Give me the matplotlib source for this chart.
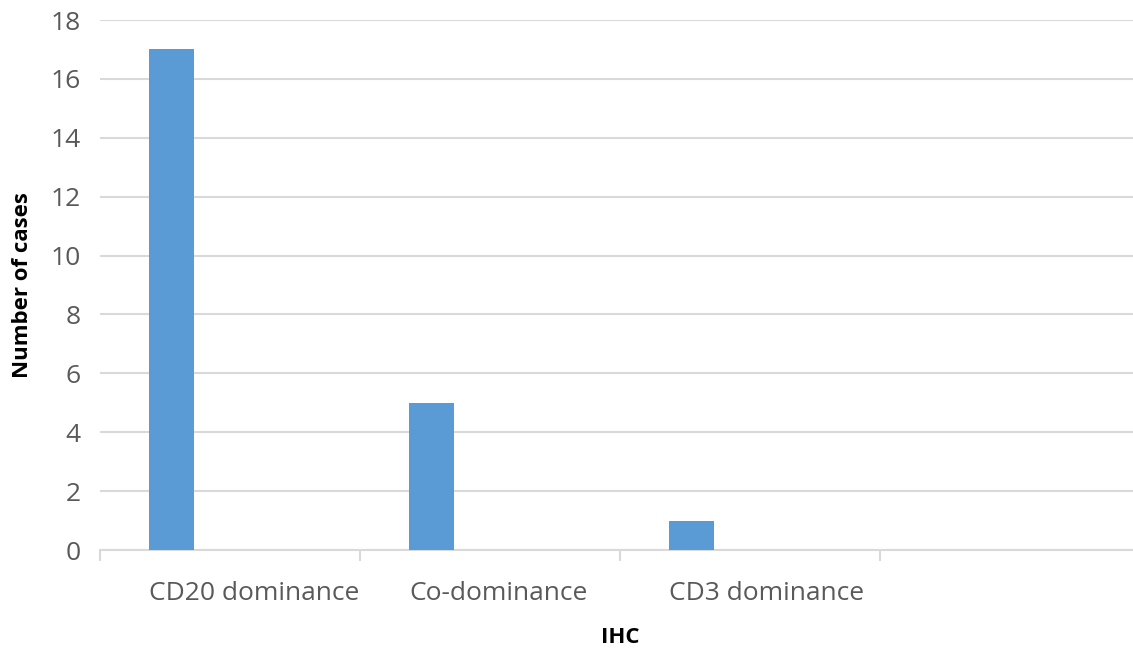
import numpy as np
import matplotlib.pyplot as plt

# Data
categories = ["CD20 dominance", "Co-dominance", "CD3 dominance"]
cases = [17, 5, 1]
y_ticks = [0, 2, 4, 6, 8, 10, 12, 14, 16, 18]

plt.rcParams['font.family'] = ['Open Sans', 'DejaVu Sans']

fig = plt.figure(figsize=(11.33, 6.5), dpi=100)
ax = fig.add_axes([100 / 1133, 1 - 550 / 650, 1033 / 1133, 530 / 650])

x = np.arange(len(categories))
bar_w = 0.173
bar_x = x - 0.225
ax.bar(bar_x, cases, width=bar_w, color="#5b9bd5", zorder=3)

ax.set_xlim(-0.5, -0.5 + 1033 / 260)
ax.set_ylim(0, 18)
ax.set_yticks(y_ticks)
ax.yaxis.grid(True, color="#d9d9d9", linewidth=1.5, zorder=0)

# category labels, left-aligned with the bars
ax.set_xticks(bar_x - bar_w / 2)
ax.set_xticklabels(categories, ha="left")
ax.tick_params(axis="x", length=0, pad=22, labelsize=19, labelcolor="#595959")
# boundary tick marks between categories
ax.set_xticks(np.arange(-0.5, 3.5, 1.0), minor=True)
ax.tick_params(axis="x", which="minor", length=8, width=1.5, color="#d9d9d9")
ax.tick_params(axis="y", length=0, pad=14, labelsize=19, labelcolor="#595959")

for s in ["top", "right", "left"]:
    ax.spines[s].set_visible(False)
ax.spines["bottom"].set_color("#d9d9d9")
ax.spines["bottom"].set_linewidth(1.5)

ax.set_xlabel("IHC", fontsize=16, fontweight="bold")
ax.xaxis.set_label_coords((620 - 100) / 1033, -(627 - 550) / 530)
ax.set_ylabel("Number of cases", fontsize=16, fontweight="bold")
ax.yaxis.set_label_coords(-(100 - 33) / 1033, (550 - 285) / 530)

fig.savefig("out.png", dpi=100)
